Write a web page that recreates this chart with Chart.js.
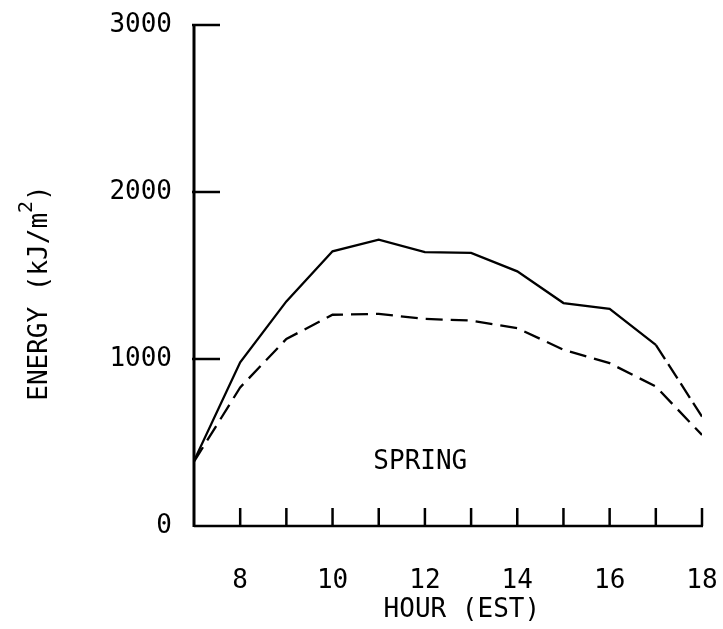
<!DOCTYPE html>
<html>
<head>
<meta charset="utf-8">
<script src="https://cdn.jsdelivr.net/npm/chart.js@4.4.0/dist/chart.umd.min.js"></script>
<style>
  html, body { margin: 0; padding: 0; background: #fff; overflow: hidden; }
  #wrap { width: 723px; height: 629px; }
</style>
</head>
<body>
<div id="wrap"><canvas id="grafica"></canvas></div>
<script>
// hours (EST) and energy readings (kJ/m2)
const horas = [7, 8, 9, 10, 11, 12, 13, 14, 15, 16, 17, 18];
const energiaSolida = [390, 980, 1345, 1645, 1715, 1640, 1635, 1525, 1335, 1300, 1085, 655];
const energiaPunteada = [385, 830, 1120, 1265, 1270, 1240, 1230, 1185, 1055, 975, 835, 545];
const ticksY = [0, 1000, 2000, 3000];
const etiquetaEstacion = "SPRING";
const tituloX = "HOUR (EST)";

const fuente = "DejaVu Sans Mono";

const puntos = (vals) => horas.map((h, i) => ({ x: h, y: vals[i] }));

// axes, inward tick marks, axis titles and the season label
const dibujoExtra = {
  id: "dibujoExtra",
  afterDraw(chart) {
    const ctx = chart.ctx;
    const xs = chart.scales.x;
    const ys = chart.scales.y;
    const area = chart.chartArea;
    ctx.save();
    ctx.strokeStyle = "#000";
    ctx.lineCap = "butt";

    // y axis
    ctx.lineWidth = 3;
    ctx.beginPath();
    ctx.moveTo(area.left, ys.getPixelForValue(3000) - 1);
    ctx.lineTo(area.left, area.bottom + 1);
    ctx.stroke();
    // x axis
    ctx.lineWidth = 2.5;
    ctx.beginPath();
    ctx.moveTo(area.left, area.bottom);
    ctx.lineTo(xs.getPixelForValue(18) + 1, area.bottom);
    ctx.stroke();

    // y ticks pointing right
    ticksY.forEach((v) => {
      if (v === 0) return;
      const y = ys.getPixelForValue(v);
      ctx.beginPath();
      ctx.moveTo(area.left - 2, y);
      ctx.lineTo(area.left + 26, y);
      ctx.stroke();
    });
    // x ticks pointing up, every hour
    for (let h = 8; h <= 18; h++) {
      const x = xs.getPixelForValue(h);
      ctx.beginPath();
      ctx.moveTo(x, area.bottom);
      ctx.lineTo(x, area.bottom - 18);
      ctx.stroke();
    }

    ctx.fillStyle = "#000";
    ctx.font = "26px '" + fuente + "'";
    ctx.textAlign = "center";
    ctx.textBaseline = "middle";
    // season label
    ctx.fillText(etiquetaEstacion, xs.getPixelForValue(11.9), ys.getPixelForValue(380));
    // x title, a little right of centre like the original
    ctx.fillText(tituloX, xs.getPixelForValue(12.8), 610);

    // y title with superscript
    ctx.translate(40, 293);
    ctx.rotate(-Math.PI / 2);
    const partA = "ENERGY (kJ/m";
    const partC = ")";
    const wA = ctx.measureText(partA).width;
    const wC = ctx.measureText(partC).width;
    ctx.font = "20px '" + fuente + "'";
    const wB = ctx.measureText("2").width;
    const x0 = -(wA + wB + wC) / 2;
    ctx.textAlign = "left";
    ctx.font = "26px '" + fuente + "'";
    ctx.fillText(partA, x0, 0);
    ctx.font = "20px '" + fuente + "'";
    ctx.fillText("2", x0 + wA, -13);
    ctx.font = "26px '" + fuente + "'";
    ctx.fillText(partC, x0 + wA + wB, 0);
    ctx.restore();
  },
};

const sinRelleno = (s) => {
  s.paddingLeft = 0;
  s.paddingRight = 0;
  s.paddingTop = 0;
  s.paddingBottom = 0;
};

new Chart(document.getElementById("grafica").getContext("2d"), {
  type: "line",
  data: {
    datasets: [
      {
        label: "solid",
        data: puntos(energiaSolida),
        borderColor: "#000",
        borderWidth: 2.3,
        pointRadius: 0,
        tension: 0,
        segment: {
          borderDash: (c) => (c.p0DataIndex === 10 ? [17, 6] : undefined),
        },
      },
      {
        label: "dashed",
        data: puntos(energiaPunteada),
        borderColor: "#000",
        borderWidth: 2.3,
        borderDash: [17, 8],
        pointRadius: 0,
        tension: 0,
      },
    ],
  },
  options: {
    responsive: true,
    maintainAspectRatio: false,
    animation: false,
    layout: { padding: { top: 25, right: 21, left: 0, bottom: 0 } },
    plugins: {
      legend: { display: false },
      tooltip: { enabled: false },
    },
    scales: {
      x: {
        type: "linear",
        min: 7,
        max: 18,
        border: { display: false },
        grid: { display: false, drawTicks: false },
        ticks: {
          stepSize: 1,
          autoSkip: false,
          maxRotation: 0,
          padding: 40,
          color: "#000",
          font: { family: fuente, size: 26 },
          callback: (v) => (v % 2 === 0 ? String(v) : ""),
        },
        afterFit: (s) => { s.height = 103; sinRelleno(s); },
      },
      y: {
        min: 0,
        max: 3000,
        border: { display: false },
        grid: { display: false, drawTicks: false },
        ticks: {
          stepSize: 1000,
          padding: 22,
          color: "#000",
          font: { family: fuente, size: 26 },
          callback: (v) => String(v),
        },
        afterFit: (s) => { s.width = 194; sinRelleno(s); },
      },
    },
  },
  plugins: [dibujoExtra],
});
</script>
</body>
</html>
